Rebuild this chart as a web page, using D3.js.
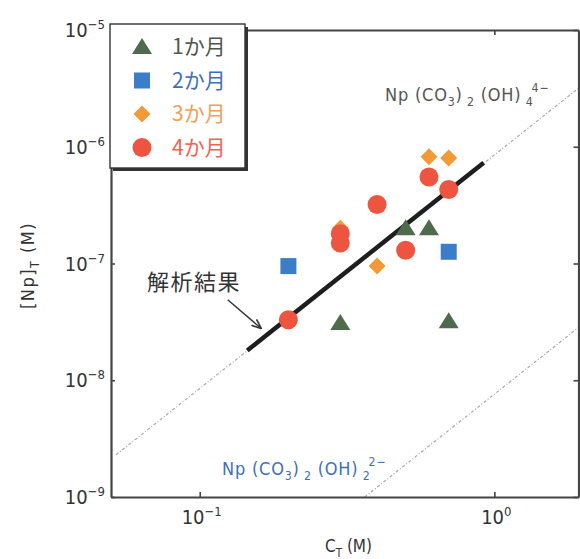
<!DOCTYPE html>
<html>
<head>
<meta charset="utf-8">
<script src="https://cdn.jsdelivr.net/npm/d3@7/dist/d3.min.js"></script>
<style>
  body { margin: 0; background: #fff; }
  svg { display: block; }
  .lat { font-family: "Liberation Sans Narrow", "Arial Narrow", "DejaVu Sans Condensed", "Liberation Sans", sans-serif; }
  .jp { font-family: "Noto Sans CJK JP", "Noto Sans", sans-serif; }
</style>
</head>
<body>
<svg id="chart" width="580" height="559"></svg>
<script>
// Total carbonate concentration C_T (M) and dissolved Np concentration [Np]_T (M)
const seriesNames = ["1か月", "2か月", "3か月", "4か月"];

const ct1 = [0.3, 0.5, 0.6, 0.7];
const np1 = [3.1e-8, 2.0e-7, 2.0e-7, 3.2e-8];

const ct2 = [0.2, 0.7];
const np2 = [9.5e-8, 1.26e-7];

const ct3 = [0.3, 0.4, 0.6, 0.7];
const np3 = [2.0e-7, 9.5e-8, 8.2e-7, 8.0e-7];

const ct4 = [0.2, 0.3, 0.3, 0.4, 0.5, 0.6, 0.7];
const np4 = [3.3e-8, 1.5e-7, 1.8e-7, 3.2e-7, 1.3e-7, 5.5e-7, 4.3e-7];

// Fitted result (slope 2 on log-log axes)
const fitCt = [0.145, 0.92];
const fitNp = [1.8e-8, 7.3e-7];

// Solubility lines of the two Np carbonate-hydroxide species
const tetraCt = [0.052, 1.93];
const tetraNp = [2.3e-9, 3.17e-6];
const diCt = [0.363, 1.93];
const diNp = [1.0e-9, 2.83e-8];

// Tick values and exponent labels
const xTicks = [0.1, 1];
const xTickExp = ["\u22121", "0"];
const yTicks = [1e-9, 1e-8, 1e-7, 1e-6, 1e-5];
const yTickExp = ["\u22129", "\u22128", "\u22127", "\u22126", "\u22125"];

const colors = { green: "#4e6b4b", blue: "#3b7dc9", orange: "#f29a38", red: "#ee5540", axis: "#444" };

const svg = d3.select("#chart");
const x = d3.scaleLog().domain([0.05, 1.93]).range([111, 578.5]);
const y = d3.scaleLog().domain([1e-9, 1e-5]).range([497, 30]);
const [x0, x1] = x.range();
const [y0, y1] = y.range();

const line = d3.line().x(d => x(d[0])).y(d => y(d[1]));
const zip = (a, b) => a.map((v, i) => [v, b[i]]);

// Reference species lines
svg.append("path").datum(zip(tetraCt, tetraNp)).attr("d", line)
  .attr("fill", "none").attr("stroke", "#a8a8a8").attr("stroke-width", 1.2)
  .attr("stroke-dasharray", "3,2,1,2");
svg.append("path").datum(zip(diCt, diNp)).attr("d", line)
  .attr("fill", "none").attr("stroke", "#a8a8a8").attr("stroke-width", 1.2)
  .attr("stroke-dasharray", "3,2,1,2");

// Fitted line
svg.append("path").datum(zip(fitCt, fitNp)).attr("d", line)
  .attr("fill", "none").attr("stroke", "#1e1e1e").attr("stroke-width", 4.5)
  .attr("stroke-linecap", "butt");

// Marker shapes
const shapes = {
  triangle: (cx, cy) => `M${cx},${cy - 9}L${cx + 10},${cy + 7}L${cx - 10},${cy + 7}Z`,
  square: (cx, cy) => `M${cx - 8},${cy - 8}h16v16h-16Z`,
  diamond: (cx, cy) => `M${cx},${cy - 8.5}L${cx + 8.5},${cy}L${cx},${cy + 8.5}L${cx - 8.5},${cy}Z`,
  circle: (cx, cy) => `M${cx - 9.5},${cy}a9.5,9.5 0 1,0 19,0a9.5,9.5 0 1,0 -19,0Z`
};

const series = [
  { ct: ct1, np: np1, shape: "triangle", color: colors.green },
  { ct: ct2, np: np2, shape: "square", color: colors.blue },
  { ct: ct3, np: np3, shape: "diamond", color: colors.orange },
  { ct: ct4, np: np4, shape: "circle", color: colors.red }
];

series.forEach(s => {
  svg.append("g").selectAll("path").data(zip(s.ct, s.np)).join("path")
    .attr("d", d => shapes[s.shape](x(d[0]), y(d[1])))
    .attr("fill", s.color);
});

// Axes (frame with inward ticks)
function styleAxis(g) {
  g.selectAll(".domain").attr("stroke", colors.axis).attr("stroke-width", 2.2);
  g.selectAll(".tick line").attr("stroke", colors.axis).attr("stroke-width", 1.6);
}
svg.append("g").attr("transform", `translate(0,${y0})`)
  .call(d3.axisBottom(x).tickValues(xTicks).tickSize(-5).tickSizeOuter(0).tickFormat(""))
  .call(styleAxis);
svg.append("g").attr("transform", `translate(0,${y1})`)
  .call(d3.axisTop(x).tickValues(xTicks).tickSize(-5).tickSizeOuter(0).tickFormat(""))
  .call(styleAxis);
svg.append("g").attr("transform", `translate(${x0},0)`)
  .call(d3.axisLeft(y).tickValues(yTicks).tickSize(-4).tickSizeOuter(0).tickFormat(""))
  .call(styleAxis);
svg.append("g").attr("transform", `translate(${x1},0)`)
  .call(d3.axisRight(y).tickValues(yTicks).tickSize(-5).tickSizeOuter(0).tickFormat(""))
  .call(styleAxis);

// Power-of-ten tick labels
function powerLabel(g, exp, anchor) {
  const t = g.append("text").attr("class", "lat").attr("fill", "#333")
    .attr("font-size", 20).attr("text-anchor", anchor);
  t.append("tspan").text("10");
  t.append("tspan").attr("font-size", 13).attr("dy", -8).text(exp);
  return t;
}
yTicks.forEach((v, i) => {
  powerLabel(svg, yTickExp[i], "end").attr("x", x0 - 6).attr("y", y(v) + 7);
});
xTicks.forEach((v, i) => {
  powerLabel(svg, xTickExp[i], "middle").attr("x", x(v) + 2).attr("y", y0 + 27);
});

// Text with sub/superscripts
function richText(parent, parts, size) {
  const t = parent.append("text").attr("class", "lat").attr("font-size", size);
  let shift = 0;
  parts.forEach(p => {
    const target = p.sub ? size * 0.3 : p.sup ? -size * 0.48 : 0;
    t.append("tspan").attr("dy", target - shift)
      .attr("font-size", p.sub || p.sup ? size * 0.68 : size)
      .attr("dx", p.dx || 0)
      .text(p.t);
    shift = target;
  });
  return t;
}

richText(svg, [{ t: "Np (CO" }, { t: "3", sub: 1 }, { t: ")" }, { t: " 2", sub: 1 },
  { t: " (OH)" }, { t: " 4", sub: 1 }, { t: "4\u2212", sup: 1, dx: -2 }], 18)
  .attr("x", 385).attr("y", 101).attr("letter-spacing", 0.8).attr("fill", "#555");

richText(svg, [{ t: "Np (CO" }, { t: "3", sub: 1 }, { t: ")" }, { t: " 2", sub: 1 },
  { t: " (OH)" }, { t: " 2", sub: 1 }, { t: "2\u2212", sup: 1, dx: -2 }], 18)
  .attr("x", 222).attr("y", 475).attr("letter-spacing", 0.8).attr("fill", "#3f6fb8");

// Axis titles
richText(svg, [{ t: "C" }, { t: "T", sub: 1 }, { t: " (M)" }], 17)
  .attr("x", 325).attr("y", 552).attr("fill", "#333");
richText(svg, [{ t: "[Np]" }, { t: "T", sub: 1 }, { t: " (M)" }], 18)
  .attr("transform", "translate(34,309) rotate(-90)").attr("letter-spacing", 1.5).attr("fill", "#333");

// Annotation for the fitted line
svg.append("text").attr("class", "jp").attr("x", 147).attr("y", 290)
  .attr("font-size", 22).attr("letter-spacing", 1.5).attr("fill", "#333").text("解析結果");
svg.append("defs").append("marker").attr("id", "arrowhead")
  .attr("viewBox", "0 0 10 10").attr("refX", 9).attr("refY", 5)
  .attr("markerWidth", 7).attr("markerHeight", 7).attr("orient", "auto")
  .append("path").attr("d", "M0,1L10,5L0,9").attr("fill", "none").attr("stroke", "#333").attr("stroke-width", 1.6);
svg.append("line")
  .attr("x1", x(0.1245)).attr("y1", y(4.9e-8))
  .attr("x2", x(0.161)).attr("y2", y(2.8e-8))
  .attr("stroke", "#333").attr("stroke-width", 1.4).attr("marker-end", "url(#arrowhead)");

// Legend box with a drop-shadow edge
const legend = svg.append("g");
legend.append("rect").attr("x", 113).attr("y", 27).attr("width", 135).attr("height", 144).attr("fill", "#333");
legend.append("rect").attr("x", 110).attr("y", 24).attr("width", 135).attr("height", 144)
  .attr("fill", "#fff").attr("stroke", "#333").attr("stroke-width", 1.4);
const legendColors = [colors.green, colors.blue, colors.orange, colors.red];
const legendText = ["#4d564d", "#3f6fb8", "#f2a055", "#ef6450"];
series.forEach((s, i) => {
  const cy = 47 + i * 33.5;
  legend.append("path").attr("d", shapes[s.shape](142, cy)).attr("fill", legendColors[i]);
  legend.append("text").attr("class", "jp").attr("x", 172).attr("y", cy + 7)
    .attr("font-size", 21).attr("fill", legendText[i]).text(seriesNames[i]);
});
</script>
</body>
</html>
